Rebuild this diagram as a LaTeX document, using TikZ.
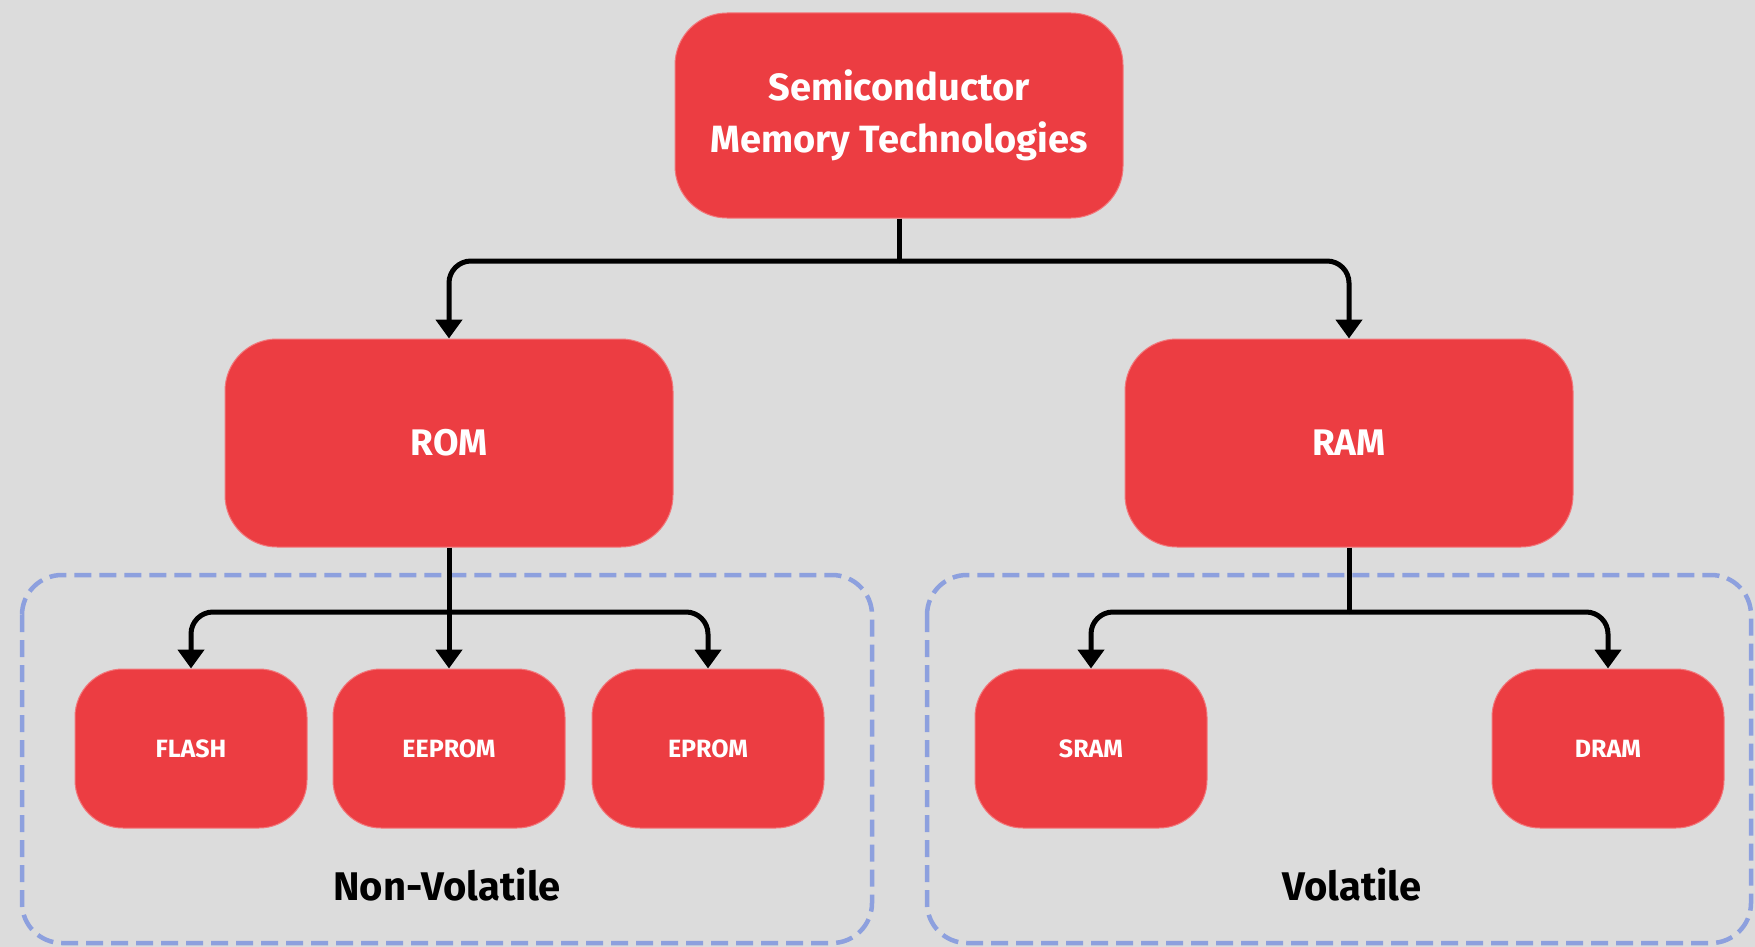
\documentclass[tikz,border=0pt]{standalone}
\usepackage{fontspec}
\setmainfont{Fira Sans}
\usetikzlibrary{arrows.meta}
\definecolor{bgc}{RGB}{220,220,220}
\definecolor{redc}{RGB}{236,61,66}
\definecolor{dashc}{RGB}{141,160,222}
\tikzset{
  redbox/.style={fill=redc, draw=redc!70!white, line width=1pt, text=white, font=\bfseries, align=center},
  bigbox/.style={redbox, minimum width=448pt, minimum height=208pt, rounded corners=52pt},
  smallbox/.style={redbox, minimum width=232pt, minimum height=159pt, rounded corners=48pt, font=\bfseries\fontsize{25}{30}\selectfont},
  conn/.style={line width=5pt, draw=black, rounded corners=22pt, -{Triangle[length=19pt,width=26pt]}},
  connplain/.style={line width=5pt, draw=black},
  group/.style={draw=dashc, line width=4.5pt, dash pattern=on 17pt off 8pt, rounded corners=40pt},
  grouplabel/.style={font=\bfseries\fontsize{40}{48}\selectfont, text=black}
}
\begin{document}
\begin{tikzpicture}[x=1pt,y=-1pt]
\useasboundingbox (0,0) rectangle (1755,947);
\fill[bgc] (0,0) rectangle (1755,947);

% dashed groups
\draw[group] (22,575) rectangle (872,943);
\draw[group] (927,575) rectangle (1751,943);

% nodes
\node[bigbox, minimum height=205pt, font=\bfseries\fontsize{38}{52}\selectfont] (top) at (899,115.5) {Semiconductor\\Memory Technologies};
\node[bigbox, font=\bfseries\fontsize{37}{42}\selectfont] (rom) at (449,443) {ROM};
\node[bigbox, font=\bfseries\fontsize{37}{42}\selectfont] (ram) at (1349,443) {RAM};

\node[smallbox] (flash) at (191,748.5) {FLASH};
\node[smallbox] (eeprom) at (449,748.5) {EEPROM};
\node[smallbox] (eprom) at (708,748.5) {EPROM};
\node[smallbox] (sram) at (1091,748.5) {SRAM};
\node[smallbox] (dram) at (1608,748.5) {DRAM};

\node[grouplabel] (nv) at (447,885) {Non-Volatile};
\node[grouplabel] (vl) at (1352,885) {Volatile};

% junctions
\coordinate (j1) at (899,261);
\coordinate (j2) at (449,612);
\coordinate (j3) at (1349,612);

% connectors
\draw[connplain] (top.south) -- (j1);
\draw[conn] (j1) -| (rom.north);
\draw[conn] (j1) -| (ram.north);

\draw[conn] (rom.south) -- (eeprom.north);
\draw[conn] (j2) -| (flash.north);
\draw[conn] (j2) -| (eprom.north);

\draw[connplain] (ram.south) -- (j3);
\draw[conn] (j3) -| (sram.north);
\draw[conn] (j3) -| (dram.north);
\end{tikzpicture}
\end{document}
